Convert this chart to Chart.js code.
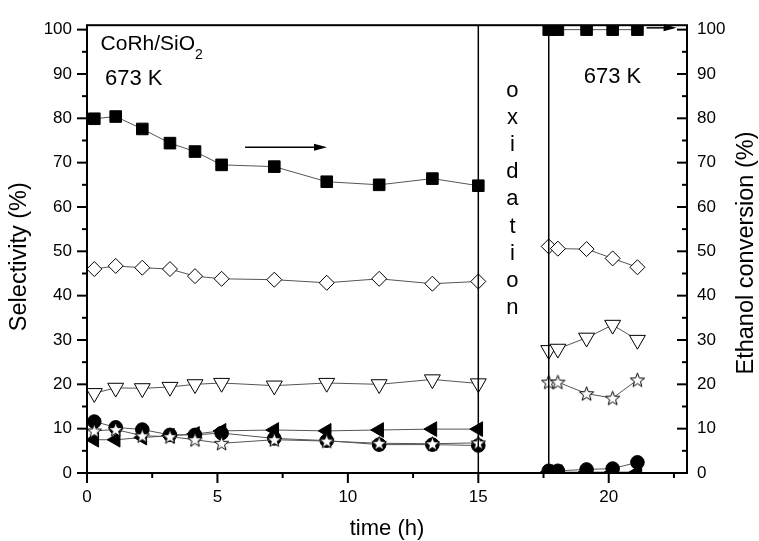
<!DOCTYPE html>
<html>
<head>
<meta charset="utf-8">
<script src="https://cdn.jsdelivr.net/npm/chart.js@4.4.1/dist/chart.umd.min.js"></script>
<style>
  body { margin: 0; background: #fff; }
</style>
</head>
<body>
<canvas id="chart" width="759" height="541"></canvas>
<script>
// time on stream (h), before and after the oxidation step
const timeBefore = [0.28, 1.1, 2.12, 3.18, 4.14, 5.16, 7.18, 9.19, 11.2, 13.24, 15.0];
const timeAfter = [17.7, 18.05, 19.15, 20.15, 21.1];
const oxidationStep = [15, 17.7];

// ethanol conversion (%) - right axis
const convBefore = [79.9, 80.4, 77.6, 74.4, 72.5, 69.5, 69.1, 65.7, 65.0, 66.4, 64.8];
const convAfter = [100, 100, 100, 100, 100];

// selectivities (%) - left axis, named after their markers
const diamondBefore = [46.0, 46.7, 46.3, 46.0, 44.4, 43.8, 43.6, 42.9, 43.8, 42.7, 43.2];
const diamondAfter = [51.1, 50.6, 50.5, 48.4, 46.4];
const triDownBefore = [18.0, 19.2, 19.1, 19.4, 20.0, 20.3, 19.7, 20.3, 20.0, 21.1, 20.2];
const triDownAfter = [27.7, 28.0, 30.5, 33.4, 30.0];
const triLeftBefore = [7.5, 7.5, 8.0, 8.4, 8.8, 9.5, 9.7, 9.5, 9.7, 9.9, 9.9];
const triLeftAfter = [0.2, 0.2, 0.2, 0.2, 0.2];
const circleBefore = [11.6, 10.3, 9.8, 8.6, 8.6, 9.0, 7.8, 7.3, 6.4, 6.4, 6.2];
const circleAfter = [0.5, 0.5, 0.8, 1.0, 2.4];
const starBefore = [9.5, 9.8, 8.4, 8.2, 7.5, 6.7, 7.5, 7.2, 6.7, 6.6, 6.8];
const starAfter = [20.5, 20.5, 17.9, 16.9, 21.0];

const xTicks = [0, 5, 10, 15, 20];
const yTicks = [0, 10, 20, 30, 40, 50, 60, 70, 80, 90, 100];

const FONT = "'Liberation Sans', Arial, sans-serif";
Chart.defaults.font.family = FONT;
Chart.defaults.color = '#000';

function points(before, after) {
  const a = timeBefore.map((t, i) => ({x: t, y: before[i]}));
  const b = timeAfter.map((t, i) => ({x: t, y: after[i]}));
  return [...a, {x: 16.3, y: null}, ...b];  // null breaks the line across the oxidation
}

// five pointed open star, the library has none
function makeStar(size) {
  const c = document.createElement('canvas');
  c.width = c.height = size;
  const g = c.getContext('2d');
  const cx = size / 2, cy = size / 2 + 0.6, R = size / 2 - 1, r = R * 0.42;
  g.beginPath();
  for (let i = 0; i < 10; i++) {
    const ang = -Math.PI / 2 + i * Math.PI / 5;
    const rad = i % 2 ? r : R;
    g.lineTo(cx + rad * Math.cos(ang), cy + rad * Math.sin(ang));
  }
  g.closePath();
  g.fillStyle = '#fff';
  g.fill();
  g.lineWidth = 1;
  g.strokeStyle = '#000';
  g.stroke();
  return c;
}

function series(data, style, opts) {
  return Object.assign({
    data: data,
    showLine: true,
    spanGaps: false,
    borderColor: '#555',
    borderWidth: 1,
    pointStyle: style,
    pointBorderColor: '#000',
    pointBorderWidth: 1,
    pointHoverRadius: 0,
    yAxisID: 'y',
    clip: 0
  }, opts);
}

const datasets = [
  series(points(starBefore, starAfter), makeStar(17), {order: 0}),
  series(points(circleBefore, circleAfter), 'circle', {pointRadius: 6.8, pointBackgroundColor: '#000', order: 1}),
  series(points(triLeftBefore, triLeftAfter), 'triangle', {pointRadius: 8.5, pointRotation: -90, pointBackgroundColor: '#000', order: 2}),
  series(points(triDownBefore, triDownAfter), 'triangle', {pointRadius: 9.2, pointRotation: 180, pointBackgroundColor: '#fff', order: 3}),
  series(points(diamondBefore, diamondAfter), 'rectRot', {pointRadius: 7.5, pointBackgroundColor: '#fff', order: 4}),
  series(points(convBefore, convAfter), 'rect', {pointRadius: 8.2, pointBackgroundColor: '#000', yAxisID: 'y2', order: 5})
];

function minors(ticks, max) {
  const step = ticks[1] - ticks[0];
  return ticks.map(v => v + step / 2).filter(v => v <= max);
}

// frame, tick marks, oxidation lines, arrows and the text labels
const decorations = {
  id: 'decorations',
  afterDatasetsDraw(chart) {
    const {ctx, chartArea: a, scales: {x, y}} = chart;
    ctx.save();
    ctx.strokeStyle = '#000';
    ctx.fillStyle = '#000';

    ctx.lineWidth = 1.5;
    oxidationStep.forEach(v => {
      const px = x.getPixelForValue(v);
      ctx.beginPath();
      ctx.moveTo(px, a.top);
      ctx.lineTo(px, a.bottom);
      ctx.stroke();
    });

    ctx.lineWidth = 2;
    ctx.strokeRect(a.left, a.top, a.right - a.left, a.bottom - a.top);

    const tick = (x1, y1, x2, y2) => {
      ctx.beginPath(); ctx.moveTo(x1, y1); ctx.lineTo(x2, y2); ctx.stroke();
    };
    xTicks.forEach(v => { const p = x.getPixelForValue(v); tick(p, a.bottom, p, a.bottom + 10); });
    minors(xTicks, x.max).forEach(v => { const p = x.getPixelForValue(v); tick(p, a.bottom, p, a.bottom + 5); });
    yTicks.forEach(v => {
      const p = y.getPixelForValue(v);
      tick(a.left - 10, p, a.left, p);
      tick(a.right - 10, p, a.right, p);
    });
    minors(yTicks, 100).forEach(v => {
      const p = y.getPixelForValue(v);
      tick(a.left - 5, p, a.left, p);
      tick(a.right - 5, p, a.right, p);
    });

    // arrows pointing at the conversion axis
    const arrow = (x0, x1, yv) => {
      const px0 = x.getPixelForValue(x0), px1 = x.getPixelForValue(x1), py = y.getPixelForValue(yv);
      ctx.lineWidth = 1.5;
      tick(px0, py, px1 - 10, py);
      ctx.beginPath();
      ctx.moveTo(px1, py);
      ctx.lineTo(px1 - 13, py - 3.5);
      ctx.lineTo(px1 - 13, py + 3.5);
      ctx.closePath();
      ctx.fill();
    };
    arrow(6.06, 9.2, 73.5);
    arrow(21.45, 22.6, 100.4);

    ctx.textAlign = 'left';
    ctx.textBaseline = 'alphabetic';
    ctx.font = '21px ' + FONT;
    const cx = x.getPixelForValue(0.52), cy = y.getPixelForValue(95.3);
    ctx.fillText('CoRh/SiO', cx, cy);
    const w = ctx.measureText('CoRh/SiO').width;
    ctx.font = '14px ' + FONT;
    ctx.fillText('2', cx + w, cy + 8.5);
    ctx.font = '22px ' + FONT;
    ctx.fillText('673 K', x.getPixelForValue(0.69), y.getPixelForValue(87.5));
    ctx.fillText('673 K', x.getPixelForValue(19.04), y.getPixelForValue(87.9));

    ctx.textAlign = 'center';
    'oxidation'.split('').forEach((ch, i) => {
      ctx.fillText(ch, x.getPixelForValue(16.31), y.getPixelForValue(84.8) + i * 27.1);
    });

    // y titles read bottom to top on both sides
    ctx.font = '23.5px ' + FONT;
    ctx.textBaseline = 'middle';
    [['Selectivity (%)', 20, 256.7], ['Ethanol conversion (%)', 747, 253]].forEach(([t, tx, ty]) => {
      ctx.save();
      ctx.translate(tx, ty);
      ctx.rotate(-Math.PI / 2);
      ctx.fillText(t, 0, 0);
      ctx.restore();
    });
    ctx.restore();
  }
};

const axisY = (position, width, padding) => ({
  type: 'linear',
  position: position,
  min: 0,
  max: 101,
  afterBuildTicks: s => { s.ticks = yTicks.map(v => ({value: v})); },
  afterFit: s => { s.width = width; },
  grid: {display: false, drawTicks: false},
  border: {display: false},
  ticks: {padding: padding, color: '#000', font: {size: 17}}
});

new Chart(document.getElementById('chart'), {
  type: 'scatter',
  data: {datasets: datasets},
  plugins: [decorations],
  options: {
    responsive: false,
    animation: false,
    events: [],
    layout: {padding: {top: 17, left: 0, right: 0, bottom: 0}},
    plugins: {legend: {display: false}, tooltip: {enabled: false}},
    scales: {
      x: {
        type: 'linear',
        min: 0,
        max: 23,
        afterBuildTicks: s => { s.ticks = xTicks.map(v => ({value: v})); },
        afterFit: s => { s.height = 68; },
        grid: {display: false, drawTicks: false},
        border: {display: false},
        ticks: {padding: 14, color: '#000', font: {size: 17}},
        title: {display: true, text: 'time (h)', font: {size: 22, lineHeight: 1}, padding: {top: 0, bottom: 1}}
      },
      y: axisY('left', 87, 15),
      y2: axisY('right', 72, 10)
    }
  }
});
</script>
</body>
</html>
